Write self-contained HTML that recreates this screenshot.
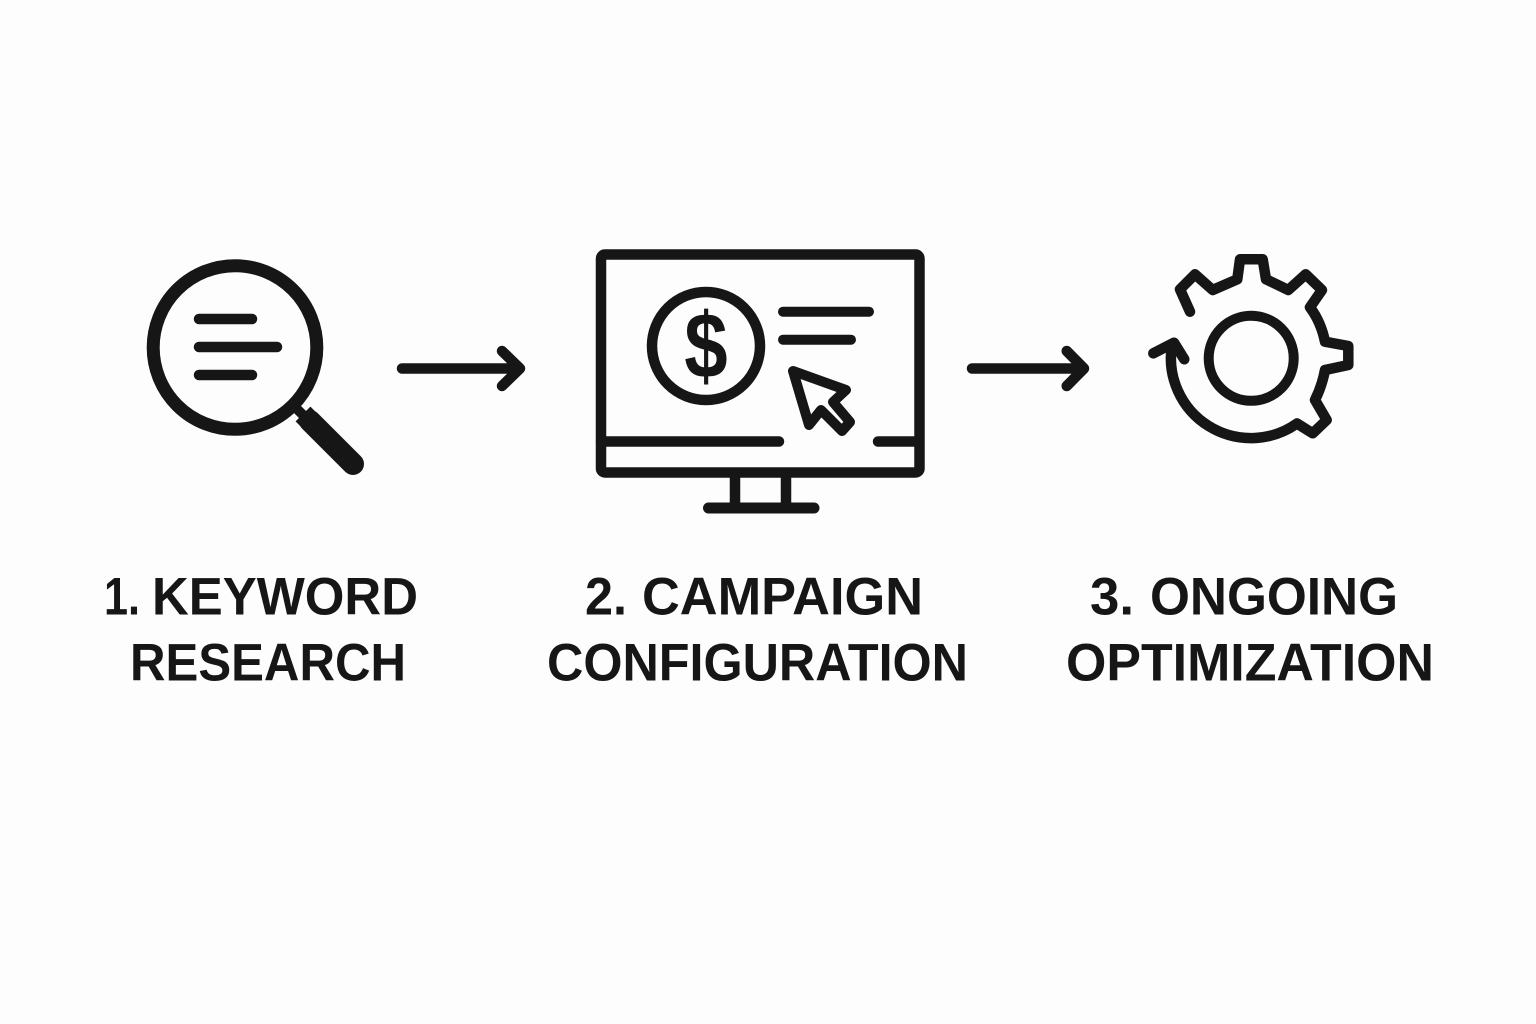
<!DOCTYPE html>
<html><head><meta charset="utf-8"><style>
html,body{margin:0;padding:0;background:#fdfdfd}
svg{display:block}
text{font-family:"Liberation Sans",sans-serif;font-weight:700;font-size:53px;fill:#161616}
</style></head><body>
<svg width="1536" height="1024" viewBox="0 0 1536 1024" xmlns="http://www.w3.org/2000/svg">
<rect width="1536" height="1024" fill="#fdfdfd"/>
<g fill="none" stroke="#161616" stroke-linecap="round" stroke-linejoin="round">
<!-- magnifier -->
<circle cx="235" cy="347.5" r="81.800" stroke-width="13"/>
<path d="M199 319H252M199 347H277M199 375H252" stroke-width="10.500"/>
<path d="M294 406L312 424" stroke-width="10" stroke-linecap="butt"/>
<path d="M310 421L353 464" stroke-width="22"/>
<path d="M310 421L303 414" stroke-width="21" stroke-linecap="butt"/>
<!-- arrow 1 -->
<path d="M402 368.500H519M502 351L520 368.500L502 386" stroke-width="10.500"/>
<!-- monitor -->
<rect x="601" y="254.500" width="318.500" height="218" rx="4" stroke-width="10.500"/>
<path d="M601 441.500H779M878 441.500H919" stroke-width="10.500"/>
<path d="M735 472V508M786 472V508" stroke-width="10.500" stroke-linecap="butt"/>
<path d="M708.500 508H814" stroke-width="11"/>
<circle cx="706" cy="346" r="54" stroke-width="10.500"/>
<path d="M783 311.700H869M783 339.700H851" stroke-width="10"/>
<path d="M793 371L846 390L833 402L850 422L842 431L821 410L809 425Z" stroke-width="10"/>
<!-- arrow 2 -->
<path d="M972 368.500H1083M1066.700 351L1084 368.500L1066.700 386" stroke-width="10.500"/>
<!-- gear -->
<circle cx="1251.200" cy="358.300" r="42.500" stroke-width="10"/>
<path d="M1190 311.700L1180 289.300L1195 274.300L1212.700 290L1237.300 279.300L1240 259.300H1262.700L1266 279.300L1288.300 290L1305.700 274.300L1322 290L1310 307.300Q1321 322 1325 341.700L1348.300 346V365L1325 370Q1322 386 1315 400L1326.700 420L1312.700 433.300L1297 423.500A80 80 0 0 1 1172 345" stroke-width="10.500"/>
<path d="M1153.300 353.300L1174 342.700L1184.300 359.300" stroke-width="10.500"/>
</g>
<!-- dollar sign -->
<text x="0" y="0" text-anchor="middle" transform="translate(706,377.700) scale(1,1.185)" style="font-size:78px">$</text>
<!-- labels -->
<text x="104" y="614.500" textLength="36" lengthAdjust="spacingAndGlyphs">1.</text>
<text x="152" y="614.500" textLength="266" lengthAdjust="spacingAndGlyphs">KEYWORD</text>
<text x="130" y="680.700" textLength="276" lengthAdjust="spacingAndGlyphs">RESEARCH</text>
<text x="585" y="614.500" textLength="42" lengthAdjust="spacingAndGlyphs">2.</text>
<text x="642" y="614.500" textLength="281" lengthAdjust="spacingAndGlyphs">CAMPAIGN</text>
<text x="547" y="680.700" textLength="421" lengthAdjust="spacingAndGlyphs">CONFIGURATION</text>
<text x="1090" y="614.500" textLength="44" lengthAdjust="spacingAndGlyphs">3.</text>
<text x="1150" y="614.500" textLength="248" lengthAdjust="spacingAndGlyphs">ONGOING</text>
<text x="1066" y="680.700" textLength="368" lengthAdjust="spacingAndGlyphs">OPTIMIZATION</text>
</svg>
</body></html>
